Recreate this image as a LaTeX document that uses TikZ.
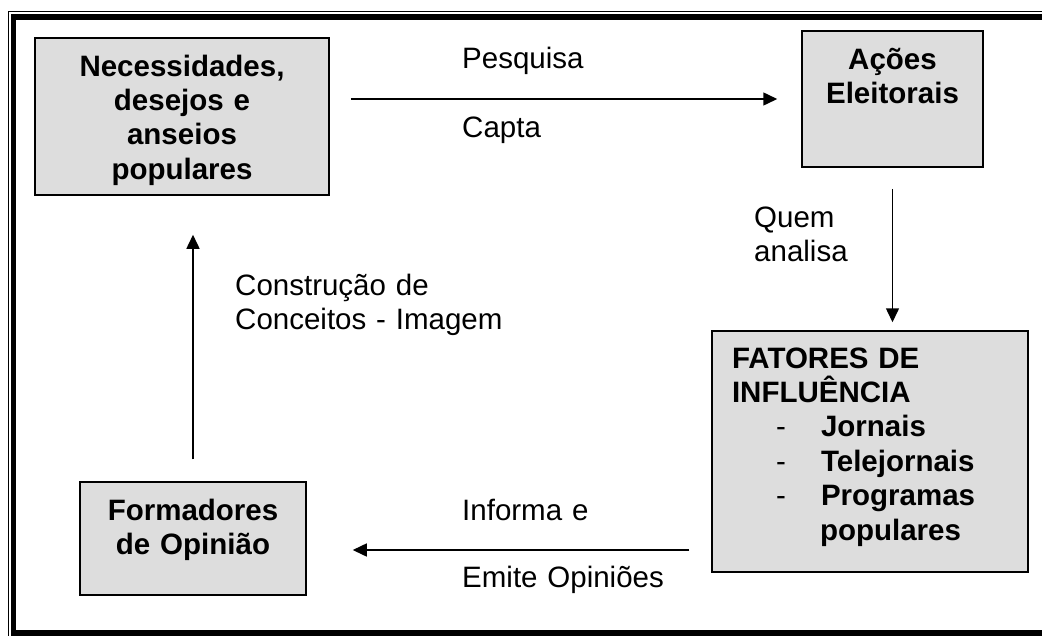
\documentclass[tikz,border=0pt]{standalone}
\usepackage{fontspec}
\setmainfont{Liberation Sans}
\usetikzlibrary{arrows.meta}
\definecolor{cinzacaixa}{RGB}{221,221,221}

\begin{document}
\begin{tikzpicture}[x=1pt,y=-1pt,
  caixa/.style={draw=black,line width=1.5pt,fill=cinzacaixa,inner sep=0pt,
    align=center,text height=38pt,font=\fontsize{29.5}{34.4}\selectfont\bfseries},
  rotulo/.style={anchor=base west,inner sep=0pt,text width=330pt,align=left,
    font=\fontsize{29.5}{34.4}\selectfont},
  seta/.style={line width=1.5pt,-{Triangle[length=14pt,width=13pt]}}]
\useasboundingbox (0,0) rectangle (1042,635);
% moldura
\begin{scope}
\clip (0,0) rectangle (1042,635);
\draw[line width=1pt] (8.5,11.5) rectangle (1100,700);
\draw[line width=5.5pt] (13.5,17) rectangle (1100,633);
\end{scope}
% caixas
\node[caixa,text width=294pt,text depth=119pt] (necessidades) at (182,116.5)
  {Necessidades,\\desejos e\\anseios\\populares};
\node[caixa,text width=181pt,text depth=98pt] (acoes) at (892.5,99)
  {Ações\\Eleitorais};
\node[caixa,align=left,inner xsep=20pt,text width=276pt,text height=37pt,text depth=204pt] (fatores) at (870,451.5)
  {FATORES DE\\INFLUÊNCIA\\
   \hspace*{44pt}\makebox[45pt][l]{\mdseries -}Jornais\\
   \hspace*{44pt}\makebox[45pt][l]{\mdseries -}Telejornais\\
   \hspace*{44pt}\makebox[45pt][l]{\mdseries -}Programas\\
   \hspace*{88pt}populares};
\node[caixa,text width=226pt,text depth=75pt] (formadores) at (193,538.5)
  {Formadores\\de Opinião};
% setas
\draw[seta,shorten <=21pt,shorten >=24pt] (necessidades.east |- acoes.west) -- (acoes.west);
\draw[seta,shorten <=21pt,shorten >=8pt] (acoes.south) -- (acoes.south |- fatores.north);
\draw[seta,shorten <=22pt,shorten >=46pt] ([yshift=-11.5pt]formadores.east -| fatores.west) -- ([yshift=-11.5pt]formadores.east);
\draw[seta,shorten <=22pt,shorten >=39pt] (formadores.north) -- (formadores.north |- necessidades.south);
% rotulos
\node[rotulo] (pesquisa) at (462,68) {Pesquisa};
\node[rotulo] (capta) at (462,137) {Capta};
\node[rotulo] (quem) at (754,227) {Quem\\analisa};
\node[rotulo] (construcao) at (235,295) {Construção de\\Conceitos - Imagem};
\node[rotulo] (informa) at (462,520) {Informa e};
\node[rotulo] (emite) at (462,587) {Emite Opiniões};
\end{tikzpicture}
\end{document}
